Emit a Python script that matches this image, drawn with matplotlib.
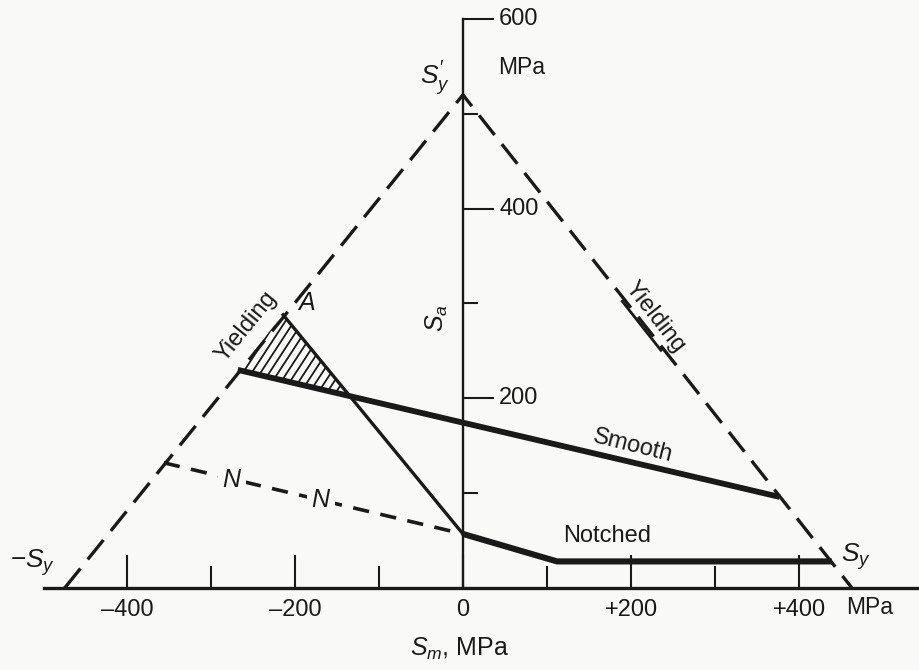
import numpy as np
import matplotlib
matplotlib.use("Agg")
import matplotlib.pyplot as plt
import matplotlib.transforms as mtransforms
from matplotlib.patches import Polygon

# ---------------- data (MPa) ----------------
sy_left = -474          # -Sy on the Sm axis
sy_right = 463          # +Sy on the Sm axis
sy_prime = 520          # S'y on the Sa axis

smooth_sm = [-268, 377]
smooth_sa = [230, 96]

notched_sm = [0, 112, 439]
notched_sa = [57, 28, 28]

a_line_sm = [-214, 0]
a_line_sa = [288, 57]

nn_sm = [-356, 0]
nn_sa = [132, 57]

right_bracket_sm = [192, 238]

xtick_major = [-400, -200, 0, 200, 400]
xtick_labels = ["\u2013400", "\u2013200", "0", "+200", "+400"]
xtick_minor = [-300, -100, 100, 300]
ytick_major = [200, 400, 600]
ytick_labels = ["200", "400", "600"]
ytick_minor = [100, 300, 500]

# ---------------- style ----------------
bg = "#f9f9f8"
ink = "#1a1a1a"
FONT = "Liberation Sans"
plt.rcParams["font.family"] = [FONT, "DejaVu Sans"]
plt.rcParams["mathtext.fontset"] = "custom"
plt.rcParams["mathtext.rm"] = FONT
plt.rcParams["mathtext.it"] = FONT + ":italic"

fig = plt.figure(figsize=(9.2, 6.7), dpi=100, facecolor=bg)
ax = fig.add_axes([0, 0, 1, 1])
ax.set_facecolor(bg)
ax.set_xlim(-551, 544)
ax.set_ylim(-86.5, 620)

# axes as spines through the origin
for s in ["top", "left"]:
    ax.spines[s].set_visible(False)
ax.spines["bottom"].set_position(("data", 0))
ax.spines["bottom"].set_bounds(-499, 544)
ax.spines["bottom"].set_linewidth(2.4)
ax.spines["bottom"].set_color(ink)
ax.spines["right"].set_position(("data", 0))
ax.spines["right"].set_bounds(0, 600)
ax.spines["right"].set_linewidth(1.7)
ax.spines["right"].set_color(ink)

ax.set_xticks(xtick_major, labels=xtick_labels)
ax.set_xticks(xtick_minor, minor=True)
ax.tick_params(axis="x", which="major", direction="in", length=24, width=1.5,
               pad=8, labelsize=17, colors=ink)
ax.tick_params(axis="x", which="minor", direction="in", length=16, width=1.5, colors=ink)

ax.yaxis.set_ticks_position("right")
ax.set_yticks(ytick_major, labels=ytick_labels)
ax.set_yticks(ytick_minor, minor=True)
ax.tick_params(axis="y", which="major", direction="out", length=22, width=1.5,
               pad=4, labelsize=17, colors=ink)
ax.tick_params(axis="y", which="minor", direction="out", length=11, width=1.5, colors=ink)
for lab in ax.get_yticklabels():
    lab.set_verticalalignment("center")

# yield lines (dashed)
ax.plot([sy_left, 0, sy_right], [0, sy_prime, 0], color=ink, lw=2.4,
        dashes=(7.5, 3.5), solid_capstyle="butt", dash_capstyle="butt")

# smooth line
ax.plot(smooth_sm, smooth_sa, color=ink, lw=4.2, solid_capstyle="butt")
# notched line
ax.plot(notched_sm, notched_sa, color=ink, lw=4.4, solid_joinstyle="round",
        solid_capstyle="butt")
# line through A
ax.plot(a_line_sm, a_line_sa, color=ink, lw=2.4)
# N--N dashed line
ax.plot(nn_sm, nn_sa, color=ink, lw=2.6, dashes=(4.5, 3.2))

# hatched region: yield line, A line and smooth line
p0 = np.array([smooth_sm[0], smooth_sa[0]], float)
p1 = np.array([smooth_sm[1], smooth_sa[1]], float)
q0 = np.array([a_line_sm[0], a_line_sa[0]], float)
q1 = np.array([a_line_sm[1], a_line_sa[1]], float)
M = np.column_stack([p1 - p0, -(q1 - q0)])
t, _ = np.linalg.solve(M, q0 - p0)
inter = p0 + t * (p1 - p0)
tri = Polygon([p0, q0, inter], closed=True, facecolor="none", edgecolor="none")
ax.add_patch(tri)
# steep hatch lines, clipped to the triangle
dvec = np.array([0.65, 0.88])
for x0 in np.arange(p0[0] - 120, inter[0] + 20, 10.5):
    base = np.array([x0, p0[1] - 60])
    seg = np.array([base, base + 260 * dvec])
    ln, = ax.plot(seg[:, 0], seg[:, 1], color=ink, lw=1.3)
    ln.set_clip_path(tri)

# bracket line next to the right "Yielding" label
rb_sa = [sy_prime * (1 - x / sy_right) for x in right_bracket_sm]
off_r = mtransforms.offset_copy(ax.transData, fig=fig, x=-2, y=-2, units="dots")
ax.plot(right_bracket_sm, rb_sa, color=ink, lw=2.0, transform=off_r)

# ---------------- text ----------------
tk = dict(color=ink, fontsize=17)
ax.text(42, 549, "MPa", ha="left", va="center", color=ink, fontsize=16.5)
ax.text(484, -21, "MPa", ha="center", va="center", color=ink, fontsize=16.5)
ax.text(-4, -64, r"$S_m$, MPa", ha="center", va="center", color=ink, fontsize=18)
ax.text(-31, 285, r"$S_a$", ha="center", va="center", rotation=90, color=ink, fontsize=18)
ax.text(-33, 537, r"$S_y'$", ha="center", va="center", color=ink, fontsize=19)
ax.text(-512, 27, r"$-S_y$", ha="center", va="center", color=ink, fontsize=19)
ax.text(468, 33, r"$S_y$", ha="center", va="center", color=ink, fontsize=19)
ax.text(202, 150, "Smooth", ha="center", va="center", rotation=-14, **tk)
ax.text(172, 55, "Notched", ha="center", va="center", **tk)
ax.text(-186, 300, r"$A$", ha="center", va="center", color=ink, fontsize=18)
ax.text(-258, 276, "Yielding", ha="center", va="center", rotation=51, **tk)
ax.text(228, 286, "Yielding", ha="center", va="center", rotation=-52, **tk)
nbox = dict(boxstyle="square,pad=0.15", facecolor=bg, edgecolor="none")
ax.text(-275, 114, r"$N$", ha="center", va="center", color=ink, fontsize=18, bbox=nbox)
ax.text(-169, 93, r"$N$", ha="center", va="center", color=ink, fontsize=18, bbox=nbox)

fig.savefig("out.png", dpi=100, facecolor=bg)
